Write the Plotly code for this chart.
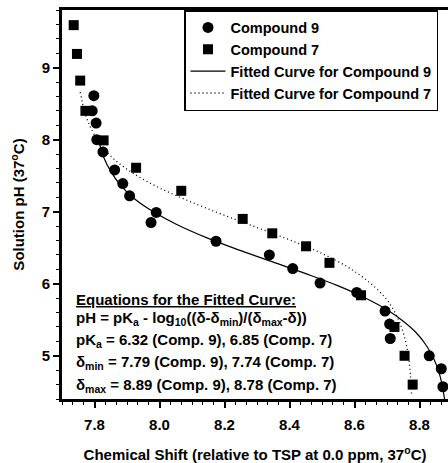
import plotly.graph_objects as go

# Compound 9 (circles)
c9_shift = [7.798, 7.793, 7.805, 7.807, 7.826, 7.862, 7.887, 7.908, 7.990, 7.974,
            8.174, 8.338, 8.410, 8.494, 8.607, 8.694, 8.708, 8.710, 8.830, 8.867, 8.872]
c9_ph = [8.61, 8.40, 8.23, 8.00, 7.83, 7.58, 7.39, 7.22, 6.99, 6.85,
         6.59, 6.40, 6.21, 6.01, 5.88, 5.62, 5.44, 5.24, 5.00, 4.82, 4.57]

# Compound 7 (squares)
c7_shift = [7.736, 7.746, 7.756, 7.772, 7.828, 7.928, 8.067, 8.256, 8.347, 8.451,
            8.523, 8.620, 8.723, 8.754, 8.779]
c7_ph = [9.59, 9.19, 8.82, 8.40, 7.99, 7.61, 7.29, 6.90, 6.70, 6.52,
         6.29, 5.84, 5.40, 5.00, 4.60]

# Fitted curves
fit9_shift = [7.815, 7.83, 7.85, 7.88, 7.92, 7.97, 8.05, 8.15, 8.25, 8.35, 8.45,
              8.55, 8.63, 8.70, 8.75, 8.79, 8.82, 8.845, 8.86, 8.87, 8.877]
fit9_ph = [7.95, 7.74, 7.56, 7.37, 7.19, 7.03, 6.83, 6.63, 6.46, 6.30, 6.14,
           5.97, 5.81, 5.64, 5.48, 5.32, 5.15, 4.95, 4.77, 4.59, 4.40]
fit7_shift = [7.756, 7.77, 7.79, 7.82, 7.86, 7.92, 8.00, 8.10, 8.20, 8.30, 8.40,
              8.50, 8.58, 8.64, 8.69, 8.72, 8.74, 8.755, 8.765, 8.772, 8.776]
fit7_ph = [8.66, 8.38, 8.15, 7.93, 7.73, 7.53, 7.33, 7.13, 6.95, 6.78, 6.61,
           6.42, 6.23, 6.04, 5.83, 5.64, 5.45, 5.24, 5.02, 4.74, 4.44]

x_ticks = [7.8, 8.0, 8.2, 8.4, 8.6, 8.8]
y_ticks = [5, 6, 7, 8, 9]

FONT = "Liberation Sans, Arial, sans-serif"

fig = go.Figure()
fig.add_trace(go.Scatter(x=c9_shift, y=c9_ph, mode="markers", name="<b>Compound 9</b>",
                         marker=dict(symbol="circle", size=11, color="black")))
fig.add_trace(go.Scatter(x=c7_shift, y=c7_ph, mode="markers", name="<b>Compound 7</b>",
                         marker=dict(symbol="square", size=10, color="black")))
fig.add_trace(go.Scatter(x=fit9_shift, y=fit9_ph, mode="lines", name="<b>Fitted Curve for Compound 9</b>",
                         line=dict(color="black", width=1.2, shape="spline")))
fig.add_trace(go.Scatter(x=fit7_shift, y=fit7_ph, mode="lines", name="<b>Fitted Curve for Compound 7</b>",
                         line=dict(color="black", width=1.3, dash="1px,3px", shape="spline")))

lines = [
    ("<b><u>Equations for the Fitted Curve:</u></b>", 302),
    ("<b>pH = pK<sub>a</sub> - log<sub>10</sub>((δ-δ<sub>min</sub>)/(δ<sub>max</sub>-δ))</b>", 321),
    ("<b>pK<sub>a</sub> = 6.32 (Comp. 9), 6.85 (Comp. 7)</b>", 343),
    ("<b>δ<sub>min</sub> = 7.79 (Comp. 9), 7.74 (Comp. 7)</b>", 365),
    ("<b>δ<sub>max</sub> = 8.89 (Comp. 9), 8.78 (Comp. 7)</b>", 388),
]
for txt, ypx in lines:
    fig.add_annotation(text=txt, xref="paper", yref="paper",
                       x=(74 - 62) / 386, y=1 - (ypx - 10) / 392,
                       xanchor="left", yanchor="middle", showarrow=False,
                       font=dict(family=FONT, size=15, color="black"))

fig.update_layout(
    width=448, height=463,
    margin=dict(l=62, r=0, t=10, b=61),
    paper_bgcolor="white", plot_bgcolor="white",
    font=dict(family=FONT, size=15, color="black"),
    showlegend=True,
    legend=dict(x=(184 - 62) / 386, y=1, xanchor="left", yanchor="top",
                bgcolor="white", bordercolor="black", borderwidth=1.5,
                font=dict(family=FONT, size=14.5, color="black"),
                itemwidth=35, tracegroupgap=0),
    xaxis=dict(range=[7.7, 8.8877], tickvals=x_ticks, ticktext=[f"<b>{v:.1f}</b>" for v in x_ticks],
               ticks="outside", ticklen=6, tickwidth=1.5, tickcolor="black",
               ticklabelstandoff=4,
               showline=True, linecolor="black", linewidth=2.5, mirror=True,
               showgrid=False, zeroline=False,
               minor=dict(dtick=0.2 / 6, tick0=7.8, ticks="outside", ticklen=3, tickcolor="black", tickwidth=1),
               title=dict(text="<b>Chemical Shift (relative to TSP at 0.0 ppm, 37<sup>o</sup>C)</b>",
                          font=dict(size=15), standoff=20)),
    yaxis=dict(range=[4.4, 9.8], tickvals=y_ticks, ticktext=[f"<b>{v}</b>" for v in y_ticks],
               ticks="outside", ticklen=6, tickwidth=1.5, tickcolor="black",
               showline=True, linecolor="black", linewidth=3,
               showgrid=False, zeroline=False,
               minor=dict(dtick=0.2, tick0=5, ticks="outside", ticklen=3, tickcolor="black", tickwidth=1),
               title=dict(text="<b>Solution pH (37<sup>o</sup>C)</b>", font=dict(size=15), standoff=14)),
)

fig.write_html("out.html")
